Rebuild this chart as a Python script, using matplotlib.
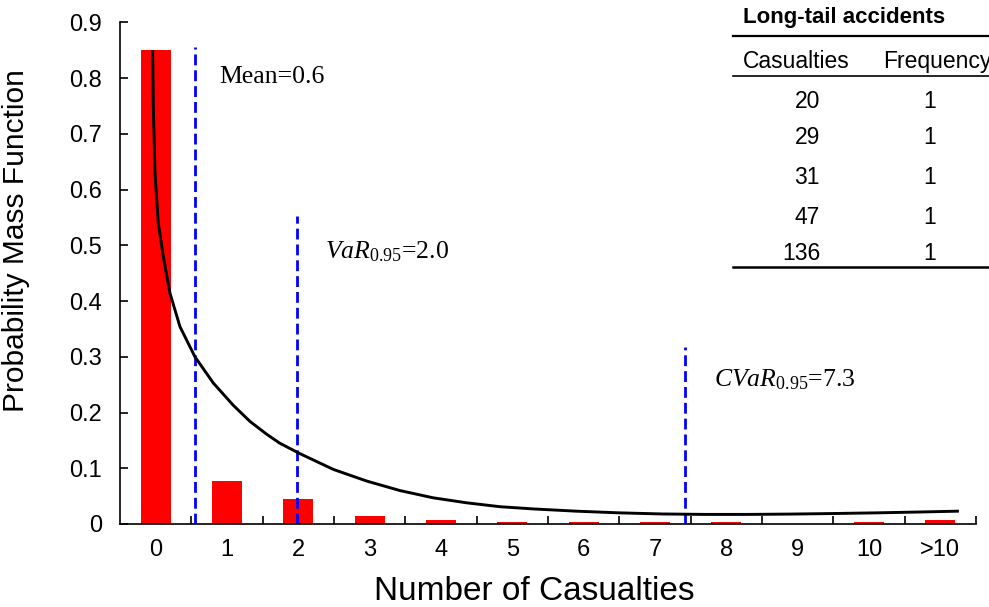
import numpy as np
import matplotlib
matplotlib.use("Agg")
import matplotlib.pyplot as plt
from matplotlib.lines import Line2D

# casualty-count PMF (bars)
categories = ["0", "1", "2", "3", "4", "5", "6", "7", "8", "9", "10", ">10"]
pmf = [0.85, 0.077, 0.044, 0.014, 0.0072, 0.0042, 0.0042, 0.0042, 0.0042, 0.0, 0.0042, 0.0072]

# fitted curve
curve_x = [-0.042, -0.033, -0.009, 0.037, 0.107, 0.201, 0.341, 0.551, 0.808, 1.088, 1.323,
           1.557, 1.74, 2.01, 2.49, 2.96, 3.425, 3.89, 4.36, 4.83, 5.3, 5.9, 6.5, 7.1, 7.7,
           8.3, 8.9, 9.5, 10.1, 10.7, 11.24]
curve_y = [0.848, 0.749, 0.629, 0.540, 0.480, 0.414, 0.354, 0.300, 0.253, 0.213, 0.184,
           0.161, 0.145, 0.127, 0.098, 0.077, 0.060, 0.047, 0.038, 0.031, 0.027, 0.023,
           0.020, 0.018, 0.0172, 0.0172, 0.0178, 0.0188, 0.020, 0.0215, 0.023]

# risk markers: position on the category axis, line height, label
marker_x = [0.55, 1.98, 7.42]
marker_top = [0.856, 0.552, 0.318]
marker_labels = ["Mean=0.6", r"$VaR_{\mathrm{0.95}}$=2.0", r"$CVaR_{\mathrm{0.95}}$=7.3"]
label_pos = [(0.89, 0.791), (2.375, 0.477), (7.83, 0.2465)]

# long-tail table
tail_casualties = [20, 29, 31, 47, 136]
tail_freq = [1, 1, 1, 1, 1]

plt.rcParams["font.family"] = "Liberation Sans"
plt.rcParams["mathtext.fontset"] = "custom"
plt.rcParams["mathtext.it"] = "Liberation Serif:italic"
plt.rcParams["mathtext.rm"] = "Liberation Serif"

W, H = 989, 607
fig = plt.figure(figsize=(W / 100, H / 100), dpi=100)
ax = fig.add_axes([120 / W, 1 - 524 / H, (976 - 120) / W, (524 - 22.5) / H])

x = np.arange(len(categories))
ax.bar(x, pmf, width=0.416, color="#ff0000", zorder=2)
ax.plot(curve_x, curve_y, color="black", lw=2.1, zorder=4, solid_joinstyle="round")
for mx, top in zip(marker_x, marker_top):
    ax.plot([mx, mx], [0, top], color="#0000ff", lw=2.0, ls=(0, (3.9, 1.8)), zorder=3)
for lab, (tx, ty) in zip(marker_labels, label_pos):
    ax.text(tx, ty, lab, family="Liberation Serif", fontsize=18.5, va="baseline", ha="left")

ax.set_xlim(-0.5, 11.5)
ax.set_ylim(0, 0.9)
ax.set_yticks(np.arange(0, 0.91, 0.1))
ax.set_yticklabels(["0"] + [f"{v:.1f}" for v in np.arange(0.1, 0.91, 0.1)])
ax.set_xticks(x)
ax.set_xticklabels(categories)
ax.set_xticks(np.arange(0.5, 11.6, 1), minor=True)
ax.tick_params(axis="x", which="major", length=0, pad=11, labelsize=17)
ax.tick_params(axis="x", which="minor", direction="in", length=6, width=1.2)
ax.tick_params(axis="y", direction="in", length=6, width=1.2, pad=13, labelsize=17)
for s in ["top", "right"]:
    ax.spines[s].set_visible(False)
for s in ["left", "bottom"]:
    ax.spines[s].set_linewidth(1.2)
ax.set_xlabel("Number of Casualties", fontsize=24)
ax.xaxis.set_label_coords(0.484, -0.104)
ax.set_ylabel("Probability Mass Function", fontsize=21.5)
ax.yaxis.set_label_coords(-0.105, 0.566)

# table in the upper right corner, placed in figure pixels
def fx(px):
    return px / W

def fy(py):
    return 1 - py / H

fig.text(fx(743), fy(18), "Long-tail accidents", fontsize=16, weight="bold", va="center")
fig.text(fx(743), fy(61.5), "Casualties", fontsize=16.5, va="center")
fig.text(fx(883), fy(61.5), "Frequency", fontsize=16.5, va="center")
row_y = [101.5, 138, 178, 217, 253]
for c, f, ry in zip(tail_casualties, tail_freq, row_y):
    fig.text(fx(820), fy(ry), str(c), fontsize=16.5, va="center", ha="right")
    fig.text(fx(930), fy(ry), str(f), fontsize=16.5, va="center", ha="center")
for ly, lw in [(36, 1.6), (76, 1.2), (267, 1.8)]:
    fig.add_artist(Line2D([fx(733), fx(989)], [fy(ly), fy(ly)], color="black", lw=lw,
                          transform=fig.transFigure))

fig.savefig("out.png", dpi=100)
